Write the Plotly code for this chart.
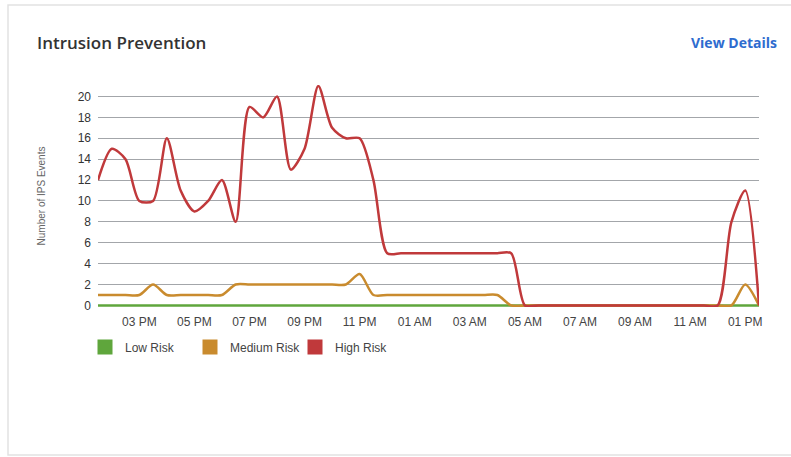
import plotly.graph_objects as go
import pandas as pd

# ---- data (half-hourly, 1:30 PM -> 1:30 PM next day) ----
times = pd.date_range("2023-01-01 13:30", "2023-01-02 13:30", freq="30min")

high_risk = [12, 15, 14, 10, 10, 16, 11, 9, 10, 12, 8, 19, 18, 20, 13, 15, 21, 17, 16, 16, 12,
             5, 5, 5, 5, 5, 5, 5, 5, 5, 5,
             0, 0, 0, 0, 0, 0, 0, 0, 0, 0, 0, 0, 0, 0,
             0, 8, 11, 0]
medium_risk = [1, 1, 1, 1, 2, 1, 1, 1, 1, 1, 2, 2, 2, 2, 2, 2, 2, 2, 2, 3, 1,
               1, 1, 1, 1, 1, 1, 1, 1, 1, 0,
               0, 0, 0, 0, 0, 0, 0, 0, 0, 0, 0, 0, 0, 0,
               0, 0, 2, 0]
low_risk = [0] * len(times)

series_names = ["Low Risk", "Medium Risk", "High Risk"]
series_colors = ["#5fa63c", "#c98b2e", "#c0393b"]
y_ticks = list(range(0, 21, 2))

W, H = 791, 457
L, R, T, B = 98, 32, 85, 150
pw, ph = W - L - R, H - T - B


def px(x):
    return (x - L) / pw


def py(y):
    return (H - B - y) / ph


fig = go.Figure()
for name, vals, col in zip(series_names, [low_risk, medium_risk, high_risk], series_colors):
    fig.add_trace(go.Scatter(x=times, y=vals, mode="lines", name=name,
                             line=dict(color=col, width=2.5, shape="spline", smoothing=0.75),
                             showlegend=False, hoverinfo="x+y+name"))
for name, col in zip(series_names, series_colors):
    fig.add_trace(go.Scatter(x=[None], y=[None], mode="markers", name=name,
                             marker=dict(symbol="square", size=15, color=col),
                             showlegend=True))

fig.update_layout(
    width=W, height=H,
    margin=dict(l=L, r=R, t=T, b=B),
    paper_bgcolor="white", plot_bgcolor="white",
    font=dict(family="Liberation Sans, Arial, sans-serif", size=12, color="#444"),
    legend=dict(orientation="h", x=px(85), y=py(347), xanchor="left", yanchor="middle",
                font=dict(size=12, color="#444"), entrywidth=60, entrywidthmode="pixels",
                itemclick=False),
    xaxis=dict(range=[times[0], times[-1]], tickformat="%I %p", dtick=7200000,
               tick0="2023-01-01 15:00", showgrid=False, zeroline=False, showline=False,
               ticks="", ticklabelstandoff=6, tickfont=dict(size=12, color="#444")),
    yaxis=dict(range=[-0.15, 21.1], tickvals=y_ticks, showgrid=True, gridcolor="#a3a6aa",
               gridwidth=1, zeroline=False, showline=False, ticks="", ticklabelstandoff=6,
               tickfont=dict(size=12, color="#333"),
               title=dict(text="Number of IPS Events", font=dict(size=10, color="#666"), standoff=30)),
    shapes=[dict(type="rect", xref="paper", yref="paper", x0=px(8), x1=px(805), y0=py(455), y1=py(5),
                 line=dict(color="#e2e2e2", width=1.5), fillcolor="rgba(0,0,0,0)", layer="below")],
    annotations=[
        dict(text="Intrusion Prevention", xref="paper", yref="paper", x=px(35), y=py(43),
             xanchor="left", yanchor="middle", showarrow=False,
             font=dict(family="Open Sans, sans-serif", size=17, color="#333", weight=600)),
        dict(text="View Details", xref="paper", yref="paper", x=px(779), y=py(43),
             xanchor="right", yanchor="middle", showarrow=False,
             font=dict(family="Open Sans, sans-serif", size=14, color="#2e6ccf", weight=700)),
    ],
)

fig.write_html("out.html", config={"displayModeBar": False},
               post_script="document.body.style.margin='0';")
